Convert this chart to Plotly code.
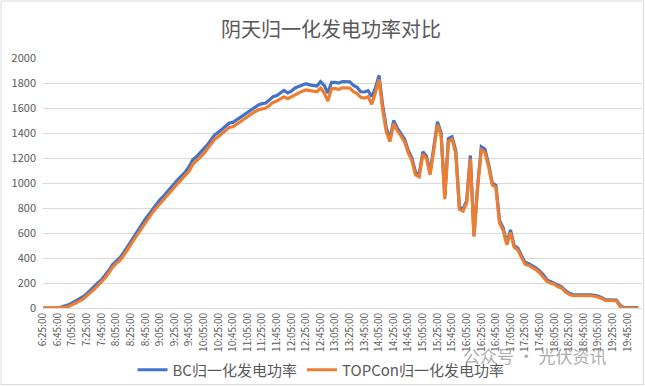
import plotly.graph_objects as go

times = []
h, m = 6, 25
for _ in range(164):
    times.append(f"{h}:{m:02d}:00")
    m += 5
    if m >= 60:
        m -= 60
        h += 1

bc_power = [
    0, 0, 0, 0, 2, 8, 15, 25, 40, 55,
    70, 90, 115, 145, 170, 200, 225, 260, 300, 345,
    375, 400, 440, 490, 530, 575, 625, 665, 710, 750,
    795, 830, 865, 895, 930, 965, 1000, 1030, 1060, 1090,
    1130, 1185, 1210, 1240, 1270, 1305, 1345, 1385, 1405, 1430,
    1450, 1480, 1485, 1505, 1525, 1550, 1570, 1590, 1605, 1625,
    1635, 1640, 1665, 1690, 1700, 1720, 1740, 1720, 1735, 1760,
    1770, 1785, 1795, 1785, 1780, 1775, 1810, 1780, 1720, 1805,
    1805, 1800, 1812, 1808, 1810, 1780, 1765, 1730, 1728, 1738,
    1690, 1760, 1860, 1620, 1440, 1350, 1500, 1440, 1395, 1350,
    1260, 1200, 1085, 1070, 1250, 1215, 1085, 1300, 1490, 1400,
    890, 1355, 1370, 1260, 810, 790, 860, 1220, 580, 980,
    1290, 1270, 1150, 1000, 980, 700, 640, 520, 625, 500,
    480, 420, 365, 355, 340, 320, 295, 265, 225, 210,
    200, 180, 170, 140, 120, 108, 106, 106, 106, 106,
    106, 104, 96, 82, 66, 66, 66, 64, 20, 3,
    3, 3, 3, 3,
]

topcon_power = [
    0, 0, 0, 0, 0, 2, 5, 12, 25, 40,
    55, 72, 95, 125, 150, 180, 205, 240, 280, 325,
    355, 380, 415, 465, 505, 550, 595, 635, 680, 720,
    765, 800, 835, 865, 900, 935, 970, 1000, 1030, 1060,
    1095, 1150, 1175, 1205, 1235, 1270, 1310, 1350, 1370, 1395,
    1415, 1445, 1450, 1470, 1490, 1515, 1535, 1555, 1570, 1585,
    1595, 1600, 1620, 1645, 1655, 1670, 1690, 1675, 1690, 1710,
    1720, 1735, 1745, 1740, 1735, 1730, 1760, 1720, 1655, 1755,
    1755, 1750, 1762, 1758, 1760, 1730, 1715, 1685, 1680, 1690,
    1630, 1720, 1828, 1585, 1410, 1330, 1475, 1420, 1375, 1330,
    1240, 1180, 1065, 1050, 1230, 1195, 1065, 1280, 1465, 1380,
    870, 1330, 1350, 1240, 790, 775, 840, 1195, 570, 960,
    1265, 1245, 1130, 985, 965, 680, 620, 505, 605, 485,
    465, 405, 350, 340, 325, 305, 280, 250, 212, 198,
    190, 170, 160, 130, 110, 100, 98, 98, 98, 98,
    98, 96, 88, 76, 60, 60, 60, 58, 12, 0,
    0, 0, 0, 0,
]

tick_labels = times[::4]

font_family = "Noto Sans CJK SC, Noto Sans, sans-serif"
grey = "#595959"

fig = go.Figure()
fig.add_trace(go.Scatter(x=times, y=bc_power, mode="lines", name="BC归一化发电功率",
                         line=dict(color="#4472C4", width=3.2)))
fig.add_trace(go.Scatter(x=times, y=topcon_power, mode="lines", name="TOPCon归一化发电功率",
                         line=dict(color="#ED7D31", width=3.2)))

W, H = 645, 386
L, R, T, B = 43, 3, 58, 78
pw, ph = W - L - R, H - T - B

fig.update_layout(
    width=W, height=H,
    margin=dict(l=L, r=R, t=T, b=B, autoexpand=False),
    paper_bgcolor="white", plot_bgcolor="white",
    font=dict(family=font_family, color=grey),
    title=dict(text="阴天归一化发电功率对比", x=331 / W, xanchor="center",
               y=1 - 30 / H, yanchor="middle",
               font=dict(size=20, color=grey, family=font_family)),
    showlegend=True,
    legend=dict(orientation="h", x=(321 - L) / pw, xanchor="center",
                y=(T + ph - 370) / ph, yanchor="middle",
                font=dict(size=15, color=grey), itemwidth=30,
                bgcolor="rgba(0,0,0,0)"),
    xaxis=dict(type="category", tickmode="array", tickvals=tick_labels, ticktext=tick_labels,
               tickangle=-90, tickfont=dict(size=10, color=grey), automargin=False,
               range=[0, 164], showgrid=False, showline=True, linecolor="#d9d9d9",
               linewidth=1, ticks="", zeroline=False),
    yaxis=dict(range=[0, 2000], dtick=200, showgrid=True, gridcolor="#d9d9d9",
               gridwidth=1, tickfont=dict(size=11, color=grey), ticks="", automargin=False,
               showline=False, zeroline=False, ticklabelstandoff=6),
    shapes=[dict(type="rect", xref="paper", yref="paper",
                 x0=(1 - L) / pw, x1=(W - 1.5 - L) / pw,
                 y0=(T + ph - (H - 1.5)) / ph, y1=(T + ph - 1) / ph,
                 line=dict(color="#d9d9d9", width=1), fillcolor="rgba(0,0,0,0)", layer="below")],
    annotations=[dict(text="公众号 · 光伏资讯", xref="paper", yref="paper",
                      x=(535 - L) / pw, y=(T + ph - 355) / ph, xanchor="center", yanchor="middle",
                      showarrow=False,
                      font=dict(size=17, color="rgba(150,150,150,0.8)", family=font_family))],
)

fig.write_html("out.html", config={"displayModeBar": False},
               post_script="document.body.style.margin='0';document.body.style.overflow='hidden';")
